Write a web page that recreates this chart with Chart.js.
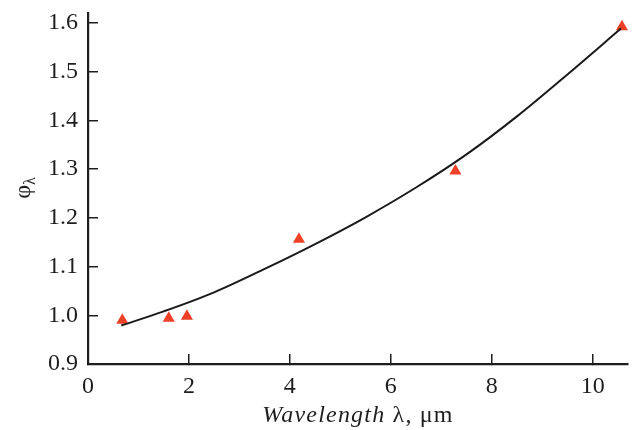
<!DOCTYPE html>
<html>
<head>
<meta charset="utf-8">
<script src="https://cdn.jsdelivr.net/npm/chart.js@4"></script>
<style>
    html, body { margin: 0; padding: 0; background: #fff; }
    #wrap { width: 635px; height: 430px; }
</style>
</head>
<body>
<div id="wrap"><canvas id="phiChart"></canvas></div>
<script>
// Measured points: wavelength (um) vs phi_lambda
const wavelengthPts = [0.68, 1.60, 1.96, 4.18, 7.28, 10.58];
const phiPts = [0.990, 0.994, 0.998, 1.156, 1.296, 1.592];

// Fitted curve, read along its length
const fitX = [0.66, 1.5, 2.5, 3.5, 4.5, 5.5, 6.5, 7.5, 8.5, 9.5, 10.56];
const fitY = [0.979, 1.008, 1.047, 1.095, 1.146, 1.201, 1.262, 1.330, 1.408, 1.494, 1.588];

// Axis ticks
const xTicks = [0, 2, 4, 6, 8, 10];
const yTicks = [0.9, 1.0, 1.1, 1.2, 1.3, 1.4, 1.5, 1.6];

const serif = "'Liberation Serif', 'Times New Roman', serif";
const ink = '#1e1e1e';

function zip(xs, ys) {
    return xs.map((x, i) => ({ x: x, y: ys[i] }));
}

// Axis titles: italic/upright mix and a subscript need manual drawing
const axisTitles = {
    id: 'axisTitles',
    afterDraw(chart) {
        const ctx = chart.ctx;
        const area = chart.chartArea;
        ctx.save();
        ctx.fillStyle = ink;
        ctx.textBaseline = 'alphabetic';
        ctx.letterSpacing = '1.2px';

        // x title: "Wavelength λ, μm"
        const italicFont = 'italic 24px ' + serif;
        const plainFont = '24px ' + serif;
        const p1 = 'Wavelength';
        const p2 = ' λ, μm';
        ctx.font = italicFont;
        const w1 = ctx.measureText(p1).width;
        ctx.font = plainFont;
        const w2 = ctx.measureText(p2).width;
        let x0 = (area.left + area.right) / 2 - (w1 + w2) / 2;
        ctx.font = italicFont;
        ctx.fillText(p1, x0, 422);
        ctx.font = plainFont;
        ctx.fillText(p2, x0 + w1, 422);

        // y title: φ with subscript λ, rotated
        ctx.letterSpacing = '0px';
        ctx.translate(30, 188);
        ctx.rotate(-Math.PI / 2);
        ctx.font = '24px ' + serif;
        const wPhi = ctx.measureText('φ').width;
        ctx.font = '16px ' + serif;
        const wLam = ctx.measureText('λ').width;
        const sx = -(wPhi + wLam) / 2;
        ctx.font = '24px ' + serif;
        ctx.fillText('φ', sx, 0);
        ctx.font = '16px ' + serif;
        ctx.fillText('λ', sx + wPhi, 5);
        ctx.restore();
    }
};

const ctx = document.getElementById('phiChart').getContext('2d');
new Chart(ctx, {
    type: 'scatter',
    data: {
        datasets: [
            {
                label: 'fit',
                data: zip(fitX, fitY),
                showLine: true,
                borderColor: '#1a1a1a',
                borderWidth: 2,
                pointRadius: 0,
                cubicInterpolationMode: 'monotone',
                fill: false
            },
            {
                label: 'measured',
                data: zip(wavelengthPts, phiPts),
                pointStyle: 'triangle',
                pointRadius: 7,
                pointBackgroundColor: '#EE4027',
                pointBorderWidth: 0,
                showLine: false
            }
        ]
    },
    options: {
        responsive: true,
        maintainAspectRatio: false,
        animation: false,
        events: [],
        clip: false,
        layout: { padding: { top: 13, right: 5, left: 0, bottom: 0 } },
        plugins: {
            legend: { display: false },
            tooltip: { enabled: false }
        },
        scales: {
            x: {
                type: 'linear',
                min: 0,
                max: 10.7,
                afterFit(scale) {
                    scale.height = 66;
                    scale.paddingLeft = 0;
                    scale.paddingRight = 0;
                },
                afterBuildTicks(scale) {
                    scale.ticks = xTicks.map(v => ({ value: v }));
                },
                border: { display: true, color: ink, width: 2.2 },
                grid: {
                    drawOnChartArea: false,
                    drawTicks: true,
                    tickLength: -10,
                    color: ink,
                    lineWidth: 1.5
                },
                ticks: {
                    padding: 18,
                    color: ink,
                    font: { family: serif, size: 24 },
                    maxRotation: 0,
                    callback: v => String(v)
                }
            },
            y: {
                type: 'linear',
                min: 0.9,
                max: 1.62,
                afterFit(scale) {
                    scale.width = 88;
                    scale.paddingTop = 0;
                    scale.paddingBottom = 0;
                },
                afterBuildTicks(scale) {
                    scale.ticks = yTicks.map(v => ({ value: v }));
                },
                border: { display: true, color: ink, width: 2.2 },
                grid: {
                    drawOnChartArea: false,
                    drawTicks: true,
                    tickLength: -10,
                    color: ink,
                    lineWidth: 1.5
                },
                ticks: {
                    padding: 20,
                    color: ink,
                    font: { family: serif, size: 24 },
                    callback: v => Number(v).toFixed(1)
                }
            }
        }
    },
    plugins: [axisTitles]
});
</script>
</body>
</html>
